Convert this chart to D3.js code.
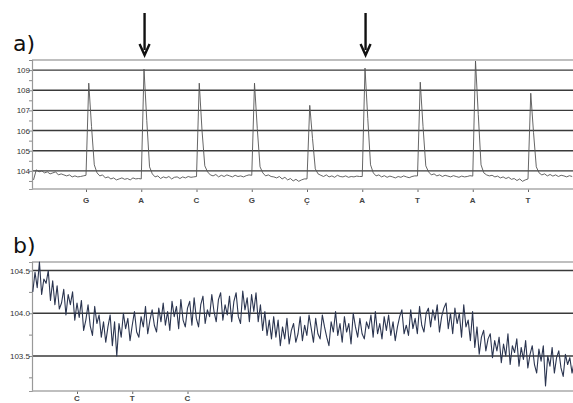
<!DOCTYPE html>
<html>
<head>
<meta charset="utf-8">
<script src="https://cdn.jsdelivr.net/npm/d3@7"></script>
<style>
  body { margin: 0; background: #fff; }
  svg { display: block; font-family: "Liberation Sans", Arial, sans-serif; }
</style>
</head>
<body>
<svg id="chart"></svg>
<script>
// panel a: bases called at each flow, and the trace (step 0.05 flow, starting at flow -0.95)
const basesA = ["G", "A", "C", "G", "Ç", "A", "T", "A", "T"];
const arrowsAt = [1, 5];
const yTicksA = [104, 105, 106, 107, 108, 109];
const traceA = [
  // before first flow
  103.55, 104.05, 103.95, 104.0, 103.9, 103.95, 103.85, 103.9, 103.95, 103.8, 103.85, 103.8, 103.75, 103.8, 103.7, 103.75, 103.7, 103.72, 103.75,
  // G
  103.78, 108.35, 106.2, 104.3, 103.9, 103.75, 103.8, 103.65, 103.7, 103.6, 103.65, 103.55, 103.6, 103.65, 103.58, 103.62, 103.55, 103.65, 103.6, 103.62,
  // A
  103.6, 109.05, 106.5, 104.2, 103.85, 103.7, 103.75, 103.62, 103.7, 103.65, 103.72, 103.6, 103.68, 103.7, 103.62, 103.7, 103.65, 103.72, 103.68, 103.7,
  // C
  103.72, 108.35, 106.0, 104.25, 103.95, 103.8, 103.75, 103.82, 103.7, 103.78, 103.72, 103.8, 103.75, 103.7, 103.78, 103.72, 103.75, 103.7, 103.76, 103.8,
  // G
  103.78, 108.35, 106.1, 104.2, 103.9, 103.75, 103.8, 103.72, 103.7, 103.65, 103.72, 103.6, 103.68, 103.55, 103.62, 103.5, 103.58, 103.48, 103.55, 103.6,
  // C
  103.6, 107.25, 105.6, 104.1, 103.85, 103.78, 103.72, 103.8, 103.7, 103.75, 103.68, 103.78, 103.72, 103.7, 103.75, 103.68, 103.72, 103.7, 103.74, 103.72,
  // A
  103.72, 109.1, 106.6, 104.3, 103.9, 103.75, 103.8, 103.7, 103.76, 103.68, 103.74, 103.7, 103.65, 103.72, 103.68, 103.75, 103.7, 103.66, 103.72, 103.75,
  // T
  103.75, 108.4, 106.2, 104.25, 103.95, 103.8, 103.85, 103.75, 103.8, 103.72, 103.78, 103.74, 103.7, 103.76, 103.72, 103.68, 103.74, 103.7, 103.72, 103.76,
  // A
  103.74, 109.45, 106.8, 104.3, 103.9, 103.8, 103.75, 103.78, 103.7, 103.74, 103.65, 103.7, 103.62, 103.68, 103.58, 103.62, 103.52, 103.6, 103.48, 103.55,
  // T
  103.6, 107.85, 105.9, 104.2, 103.9, 103.8, 103.85, 103.75, 103.82, 103.74, 103.8, 103.72, 103.78, 103.75, 103.7, 103.76, 103.72
];

// panel b: trace step 0.04 flow, starting at flow -0.8
const basesB = ["C", "T", "C"];
const yTicksB = [103.5, 104.0, 104.5];
const traceB = [
  104.25, 104.48, 104.30, 104.60, 104.22, 104.40, 104.35, 104.50, 104.15, 104.38,
  104.10, 104.32, 104.05, 104.12, 104.28, 103.98, 104.22, 104.10, 104.25, 103.92,
  104.12, 103.95, 104.15, 103.80, 103.92, 104.10, 103.85, 103.74, 104.08, 103.88,
  103.98, 103.72, 103.90, 103.66, 103.84, 103.98, 103.62, 103.90, 103.50, 103.88,
  103.72, 104.00, 103.82, 103.94, 103.68, 103.86, 104.02, 103.78, 103.72, 103.96,
  103.84, 104.08, 103.76, 103.92, 104.04, 103.86, 103.78, 104.06, 103.90, 104.12,
  103.86, 104.02, 103.80, 104.14, 103.96, 104.08, 103.82, 104.16, 103.92, 103.84,
  104.06, 104.14, 103.86, 104.18, 103.94, 103.84, 104.10, 104.20, 103.88, 104.04,
  103.96, 104.22, 104.02, 103.90, 104.16, 104.24, 103.92, 104.10, 103.98, 104.20,
  103.90, 104.14, 104.24, 103.96, 103.88, 104.26, 104.04, 104.18, 103.90, 104.22,
  104.02, 104.24, 103.90, 104.10, 103.80, 104.02, 103.74, 103.92, 103.70, 103.96,
  103.72, 103.92, 103.62, 103.84, 103.70, 103.94, 103.64, 103.80, 103.88, 103.66,
  103.76, 103.96, 103.68, 103.86, 103.74, 103.98, 103.82, 103.66, 103.94, 103.76,
  103.70, 103.98, 103.84, 103.72, 103.62, 103.90, 103.78, 104.02, 103.74, 103.88,
  103.66, 103.96, 103.78, 103.88, 103.64, 104.00, 103.84, 103.72, 103.94, 103.76,
  103.70, 103.90, 103.82, 103.98, 103.72, 104.02, 103.76, 103.88, 103.70, 103.96,
  103.80, 103.98, 103.74, 103.90, 103.68, 103.84, 103.96, 104.04, 103.76, 103.86,
  103.74, 104.04, 103.82, 103.94, 103.76, 104.08, 103.86, 103.78, 104.00, 104.06,
  103.84, 104.04, 103.92, 104.10, 103.78, 103.96, 104.06, 104.12, 103.82, 104.00,
  103.76, 104.06, 103.88, 104.00, 103.72, 104.10, 103.84, 103.92, 103.68, 104.02,
  103.60, 103.84, 103.52, 103.72, 103.80, 103.56, 103.70, 103.76, 103.48, 103.68,
  103.56, 103.72, 103.42, 103.64, 103.50, 103.76, 103.40, 103.62, 103.54, 103.70,
  103.38, 103.60, 103.46, 103.68, 103.36, 103.52, 103.62, 103.40, 103.30, 103.58,
  103.44, 103.62, 103.15, 103.50, 103.38, 103.60, 103.30, 103.48, 103.56, 103.36,
  103.26, 103.52, 103.40, 103.48, 103.30, 103.44
];

const width = 573, height = 403;
const left = 32, right = 573;

const svg = d3.select("#chart")
  .attr("width", width)
  .attr("height", height)
  .attr("viewBox", [0, 0, width, height]);

// flow scales (flow index -> px); panel b is shifted left a little
const xA = d3.scaleLinear().domain([0, 8]).range([86, 528]);
const xB = d3.scaleLinear().domain([0, 8]).range([77, 519]);

function panel(opts) {
  const x = opts.x;
  const y = d3.scaleLinear().domain(opts.yDomain).range([opts.bottom, opts.top]);
  const g = svg.append("g");

  // frame: top line
  g.append("line").attr("x1", left).attr("x2", right)
    .attr("y1", opts.top).attr("y2", opts.top)
    .attr("stroke", "#aaa").attr("stroke-width", 1.4);

  // grid lines
  g.selectAll(".grid").data(opts.ticks).join("line")
    .attr("x1", left).attr("x2", right)
    .attr("y1", d => y(d)).attr("y2", d => y(d))
    .attr("stroke", "#3a3a3a").attr("stroke-width", 1.4);

  // left axis with minor ticks
  g.append("g")
    .attr("transform", `translate(${left},0)`)
    .call(d3.axisLeft(y).tickValues(opts.minor).tickSize(3).tickFormat(""))
    .call(a => a.select(".domain").attr("stroke", "#999").attr("stroke-width", 1.2))
    .call(a => a.selectAll(".tick line").attr("stroke", "#888"));

  g.selectAll(".ylab").data(opts.ticks).join("text")
    .attr("x", left - 2).attr("y", d => y(d) + 3)
    .attr("text-anchor", "end")
    .attr("font-size", 8).attr("fill", "#333")
    .text(opts.fmt);

  // bottom axis
  const xa = g.append("g")
    .attr("transform", `translate(0,${opts.bottom})`)
    .call(d3.axisBottom(x).tickValues(d3.range(opts.bases.length)).tickSize(3).tickFormat(""));
  xa.select(".domain").remove();
  xa.selectAll(".tick line").attr("stroke", "#666");
  g.append("line").attr("x1", left).attr("x2", right)
    .attr("y1", opts.bottom).attr("y2", opts.bottom)
    .attr("stroke", "#aaa").attr("stroke-width", 1.6);

  g.selectAll(".base").data(opts.bases).join("text")
    .attr("x", (d, i) => x(i)).attr("y", opts.bottom + opts.labelDy)
    .attr("text-anchor", "middle")
    .attr("font-size", 8).attr("font-weight", "bold").attr("fill", "#444")
    .text(d => d);

  // trace
  const line = d3.line()
    .x((d, i) => x(opts.start + i * opts.step))
    .y(d => y(d));
  g.append("path").datum(opts.trace)
    .attr("d", line)
    .attr("fill", "none")
    .attr("stroke", opts.color)
    .attr("stroke-width", opts.lw)
    .attr("stroke-linejoin", "round");

  g.append("text")
    .attr("x", 13).attr("y", opts.top - 9)
    .attr("font-size", 22).attr("fill", "#111")
    .attr("font-family", "'DejaVu Sans', sans-serif")
    .text(opts.label);

  return y;
}

panel({
  label: "a)", x: xA, top: 60, bottom: 189, yDomain: [103.1, 109.5],
  ticks: yTicksA, minor: d3.range(103.5, 109.6, 0.5),
  fmt: d => d3.format("d")(d),
  bases: basesA, labelDy: 14, trace: traceA, start: -0.95, step: 0.05,
  color: "#555", lw: 0.9
});

panel({
  label: "b)", x: xB, top: 262, bottom: 391, yDomain: [103.09, 104.6],
  ticks: yTicksB, minor: d3.range(103.25, 104.6, 0.25),
  fmt: d => d3.format(".1f")(d),
  bases: basesB, labelDy: 10, trace: traceB, start: -0.8, step: 0.04,
  color: "#2b3550", lw: 1.1
});

// arrows over the flagged peaks
const arr = svg.append("g");
arrowsAt.forEach(i => {
  const ax = xA(i + 0.06);
  arr.append("line").attr("x1", ax).attr("x2", ax).attr("y1", 13).attr("y2", 50)
    .attr("stroke", "#111").attr("stroke-width", 2.4);
  arr.append("path")
    .attr("d", d3.line()([[ax - 5, 44], [ax, 55], [ax + 5, 44]]))
    .attr("fill", "none").attr("stroke", "#111").attr("stroke-width", 2.4)
    .attr("stroke-linejoin", "miter");
});
</script>
</body>
</html>
